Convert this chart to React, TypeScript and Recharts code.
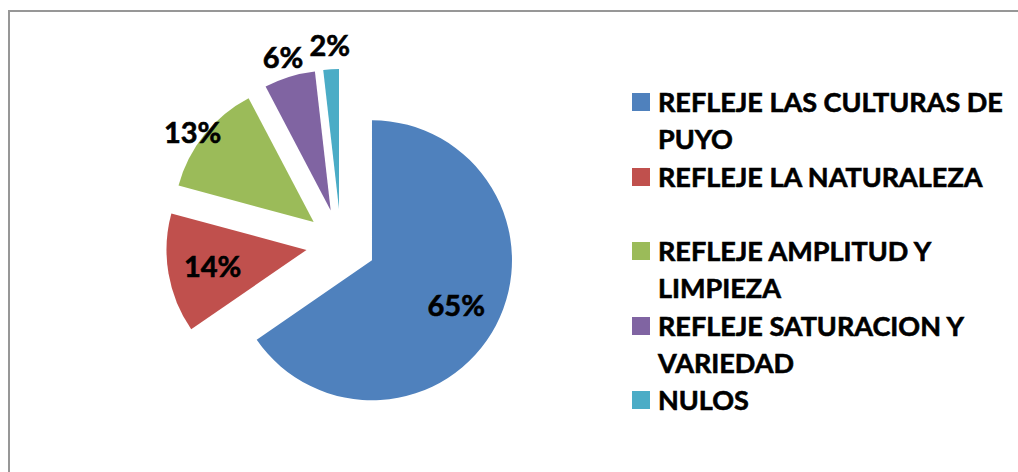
import { PieChart, Pie, Cell, Legend, Sector } from 'recharts';

const categories = [
  'REFLEJE LAS CULTURAS DE PUYO',
  'REFLEJE LA NATURALEZA',
  'REFLEJE AMPLITUD Y LIMPIEZA',
  'REFLEJE SATURACION Y VARIEDAD',
  'NULOS',
];
const values = [65.4, 13.8, 13.1, 5.9, 1.8];
const colors = ['#4F81BD', '#C0504D', '#9BBB59', '#8064A2', '#4BACC6'];

const data = categories.map((name, i) => ({ name, value: values[i] }));

const RADIAN = Math.PI / 180;
const EXPLODE = 35; // every slice pulled out from the centre
const FONT = 'Lato, "Open Sans", sans-serif';

function ExplodedSlice(props: any) {
  const { cx, cy, midAngle, innerRadius, outerRadius, startAngle, endAngle, fill } = props;
  const dx = EXPLODE * Math.cos(-midAngle * RADIAN);
  const dy = EXPLODE * Math.sin(-midAngle * RADIAN);
  return (
    <Sector
      cx={cx + dx}
      cy={cy + dy}
      innerRadius={innerRadius}
      outerRadius={outerRadius}
      startAngle={startAngle}
      endAngle={endAngle}
      fill={fill}
      stroke="none"
    />
  );
}

function renderLabel(props: any) {
  const { cx, cy, midAngle, outerRadius, percent } = props;
  const cos = Math.cos(-midAngle * RADIAN);
  const sin = Math.sin(-midAngle * RADIAN);
  const ex = cx + EXPLODE * cos;
  const ey = cy + EXPLODE * sin;
  const inside = percent >= 0.135;
  // big slices get the label inside, small ones just outside (best-fit style)
  const r = inside ? outerRadius * 0.68 : outerRadius + 26 - 14 * Math.abs(cos);
  const x = ex + r * cos;
  const y = ey + r * sin + (inside ? 0 : 10 * cos * cos);
  return (
    <text
      x={x}
      y={y}
      textAnchor="middle"
      dominantBaseline="central"
      fill="#000"
      stroke="#000"
      strokeWidth={0.6}
      style={{ fontFamily: FONT, fontWeight: 700, fontSize: 29 }}
    >
      {`${Math.round(percent * 100)}%`}
    </text>
  );
}

function LegendList({ payload }: any) {
  const items = [...(payload || [])].sort(
    (a: any, b: any) => categories.indexOf(a.value) - categories.indexOf(b.value)
  );
  return (
    <div
      style={{
        fontFamily: FONT,
        fontWeight: 700,
        fontSize: 27,
        lineHeight: '37.25px',
        color: '#000',
        WebkitTextStroke: '0.6px #000',
      }}
    >
      {items.map((entry: any, i: number) => (
        <div
          key={entry.value}
          style={{ display: 'flex', alignItems: 'flex-start', height: i < items.length - 1 ? 74.5 : 37.25 }}
        >
          <span
            style={{ width: 18, height: 18, marginTop: 10, marginRight: 8, background: entry.color, flex: 'none' }}
          />
          <span style={{ width: 380 }}>{entry.value}</span>
        </div>
      ))}
    </div>
  );
}

export default function App() {
  return (
    <div style={{ position: 'absolute', left: 0, top: 0, width: 1018, height: 472, overflow: 'hidden', background: '#fff' }}>
      <div
        style={{
          position: 'absolute',
          left: 8,
          top: 10,
          width: 1100,
          height: 600,
          borderLeft: '2px solid #979797',
          borderTop: '2px solid #979797',
        }}
      />
      <div style={{ position: 'absolute', left: 0, top: 0 }}>
        <PieChart width={1018} height={472} margin={{ top: 0, right: 0, bottom: 0, left: 0 }}>
          <Pie
            data={data}
            dataKey="value"
            nameKey="name"
            cx={341}
            cy={244}
            outerRadius={140}
            startAngle={90}
            endAngle={-270}
            shape={ExplodedSlice}
            label={renderLabel}
            labelLine={false}
            isAnimationActive={false}
          >
            {data.map((d, i) => (
              <Cell key={d.name} fill={colors[i]} />
            ))}
          </Pie>
          <Legend
            layout="vertical"
            align="right"
            verticalAlign="top"
            content={<LegendList />}
            wrapperStyle={{ left: 632, top: 83, width: 420 }}
          />
        </PieChart>
      </div>
    </div>
  );
}
